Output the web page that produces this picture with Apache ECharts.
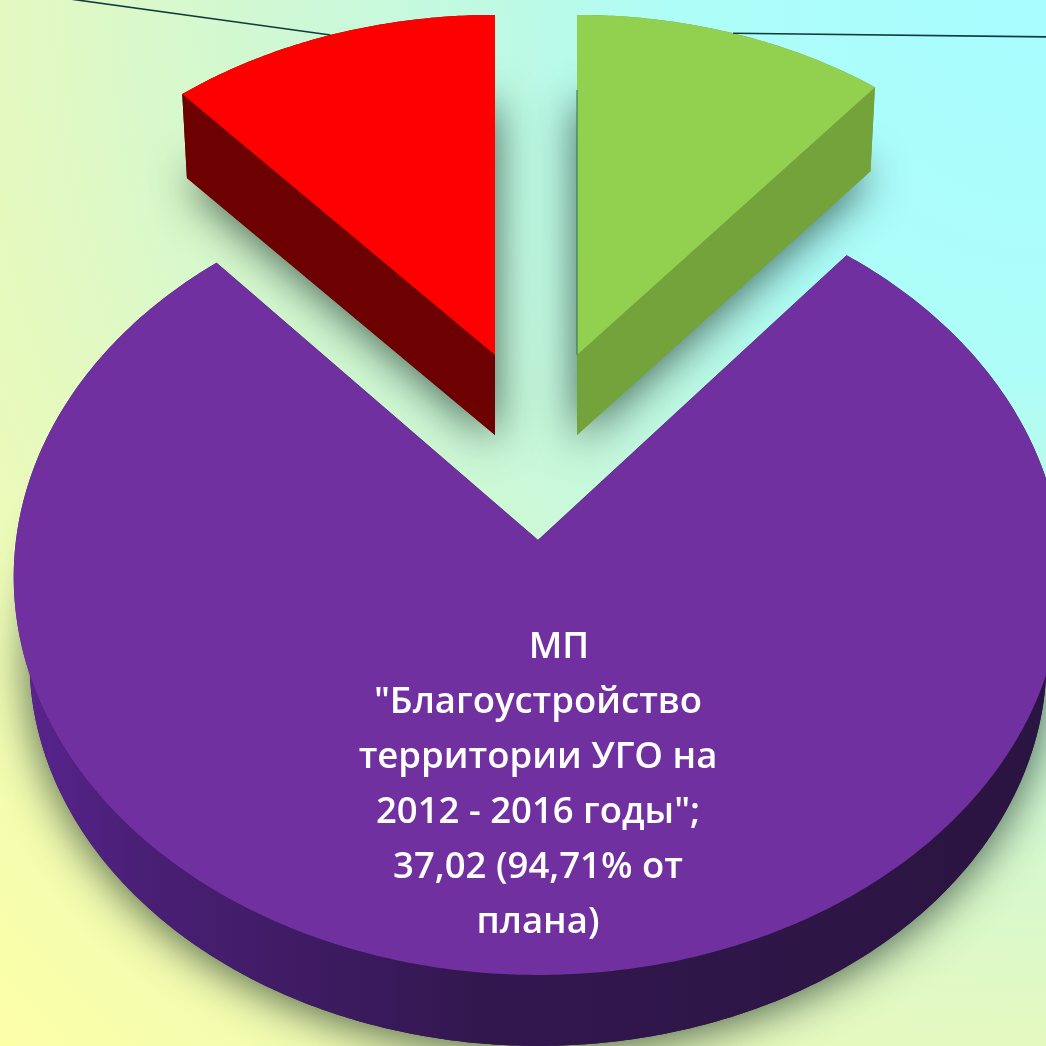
<!DOCTYPE html>
<html><head><meta charset="utf-8">
<style>html,body{margin:0;padding:0;overflow:hidden}#c{width:1046px;height:1046px}</style>
<script src="https://cdn.jsdelivr.net/npm/echarts@6/dist/echarts.min.js"></script>
</head><body><div id="c"></div>
<script>
// Data, clockwise from twelve o'clock
const sliceNames = ['Зелёный сектор', 'МП "Благоустройство территории УГО на 2012 - 2016 годы"', 'Красный сектор'];
const sliceValues = [5.21, 37.02, 5.46];
const labelLines = ['МП', '"Благоустройство', 'территории УГО на', '2012 - 2016 годы";', '37,02 (94,71% от', 'плана)'];

// Styling and projection of each exploded slice
const looks = [
  {ax:577, ay:355, R:501, Rv:369, k:.085, depth:80, shrink:.985, top:'#92d050', side:'#74a33c', wall:'#74a33c', leader:[1060,37], edge:'#2f6e4a', z:1},
  {ax:538, ay:540, R:522, Rv:394.5, k:.093, depth:84, shrink:.97, top:'#7030a0', wall:'#2b1540',
   side:{type:'linear',x:0,y:0,x2:1,y2:0,global:false,colorStops:[{offset:0,color:'#5a2490'},{offset:.12,color:'#4a1f76'},{offset:.45,color:'#32174e'},{offset:1,color:'#2a1440'}]}, z:5},
  {ax:495, ay:355, R:505, Rv:369, k:.085, depth:80, shrink:.985, top:'#ff0000', side:'#6d0000', wall:'#6d0000', leader:[70,-1], z:1}
];
const total = sliceValues.reduce((a,b)=>a+b,0);
let acc = 0;
const ranges = sliceValues.map(v=>{const s=acc; acc+=v; return [s/total*360, acc/total*360];});

function proj(l, deg, down){
  const t = deg*Math.PI/180, c=Math.cos(t), s=Math.sin(t), w=1+l.k*c, m=down?l.shrink:1;
  return [l.ax + l.R*m*s/w, l.ay + (down?l.depth:0) - l.Rv*m*c/w];
}
function renderItem(params, api){
  const i = api.value(0), l = looks[i], [a0,a1] = ranges[i];
  const rim=[], low=[], n=Math.ceil(a1-a0)*2;
  for(let j=0;j<=n;j++){const d=a0+(a1-a0)*j/n; rim.push(proj(l,d,false)); low.push(proj(l,d,true));}
  const apex=[l.ax,l.ay], apexLow=[l.ax,l.ay+l.depth];
  const kids=[];
  kids.push({type:'polygon',z2:l.z,shape:{points:[apexLow].concat(low)},
    style:{fill:l.wall,shadowBlur:44,shadowColor:'rgba(20,40,30,.72)',shadowOffsetX:0,shadowOffsetY:6}});
  kids.push({type:'polygon',z2:l.z+1,shape:{points:rim.concat(low.slice().reverse())},style:{fill:l.side}});
  [[apex,rim[0],low[0],apexLow],[apex,rim[n],low[n],apexLow]].forEach(q=>
    kids.push({type:'polygon',z2:l.z+1,shape:{points:q},style:{fill:l.wall}}));
  kids.push({type:'polygon',z2:l.z+2,shape:{points:[apex].concat(rim)},style:{fill:l.top}});
  if(l.edge){
    kids.push({type:'line',z2:l.z+3,shape:{x1:apex[0],y1:apex[1],x2:rim[0][0],y2:rim[0][1]+75},
      style:{stroke:l.edge,lineWidth:1}});
  }
  if(l.leader){
    const p=proj(l,(a0+a1)/2,false);
    kids.push({type:'line',z2:l.z+3,shape:{x1:p[0],y1:p[1],x2:l.leader[0],y2:l.leader[1]},
      style:{stroke:'#123c3c',lineWidth:1.6}});
  }
  if(i===1){
    labelLines.forEach((t,j)=>kids.push({type:'text',z2:20,
      x:(j===0?559:538), y:648+j*55,
      style:{text:t,align:'center',verticalAlign:'middle',fill:'#ffffff',
        font:'600 36.5px "Open Sans", sans-serif',
        shadowColor:'rgba(0,0,0,.85)',shadowBlur:3,shadowOffsetX:2,shadowOffsetY:2}}));
  }
  return {type:'group',children:kids};
}
const chart = echarts.init(document.getElementById('c'));
chart.setOption({
  animation:false,
  backgroundColor:{type:'radial',x:1,y:0,r:1.414,colorStops:[
    {offset:0,color:'#a8fdff'},{offset:.25,color:'#aefdf8'},{offset:.35,color:'#bcfae6'},{offset:.5,color:'#cdf8d6'},{offset:.707,color:'#e4f9c0'},{offset:1,color:'#fdffa6'}]},
  series:[{type:'custom',coordinateSystem:'none',renderItem,silent:true,
    encode:{tooltip:1},
    data:sliceValues.map((v,i)=>({name:sliceNames[i],value:[i,v]}))}]
});
</script></body></html>
